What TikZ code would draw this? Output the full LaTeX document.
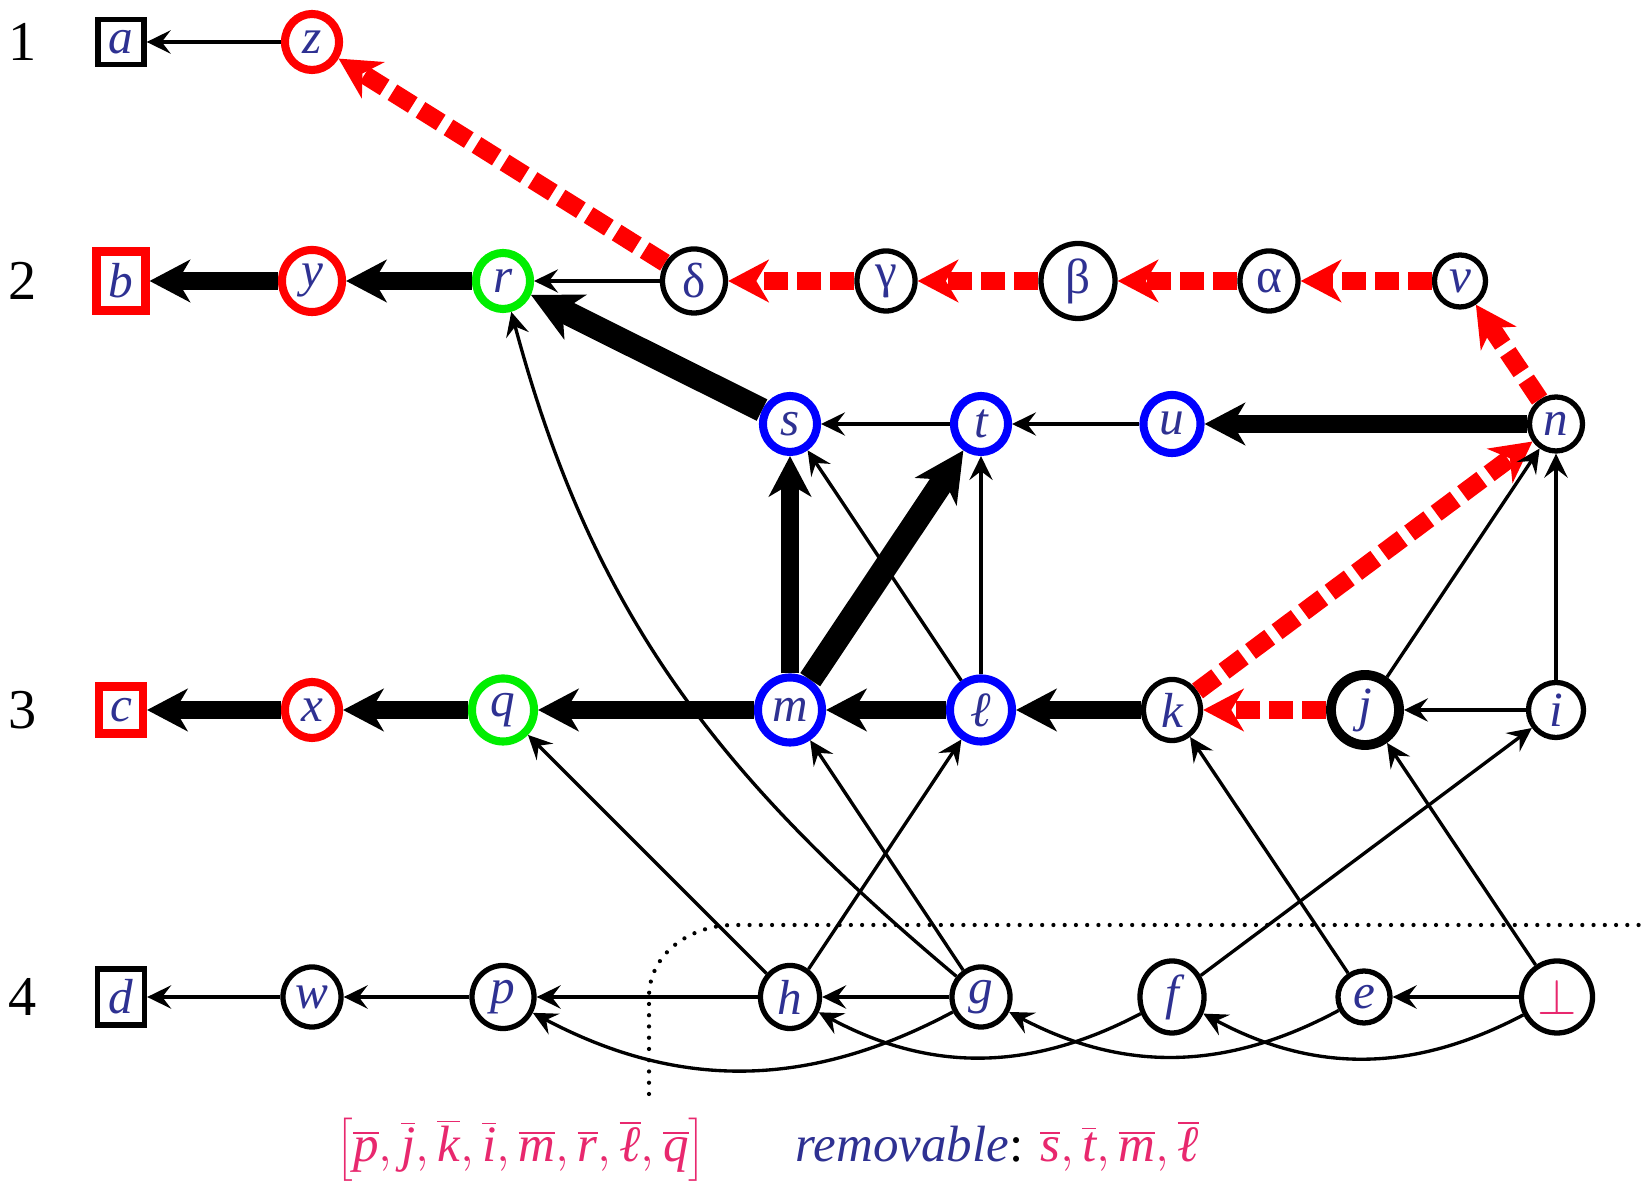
\documentclass[tikz,border=0pt]{standalone}
\usepackage{fontspec}
\setmainfont{Liberation Serif}
\definecolor{LblBlue}{HTML}{2E3192}
\definecolor{LblPink}{HTML}{E8286E}
\definecolor{MkRed}{HTML}{FF0000}
\definecolor{MkGreen}{HTML}{00EE00}
\definecolor{MkBlue}{HTML}{0000FF}
\usetikzlibrary{positioning,shapes.geometric,arrows.meta}

\tikzset{
  vtx/.style={draw, ellipse, line width=1.5pt, fill=white, inner sep=0pt,
    minimum width=0.58cm, minimum height=0.6cm, text=LblBlue,
    font=\fontsize{14}{16}\selectfont\itshape},
  sqr/.style={vtx, rectangle},
  redv/.style={vtx, draw=MkRed, line width=2.3pt, minimum width=0.54cm, minimum height=0.56cm},
  grnv/.style={vtx, draw=MkGreen, line width=2.3pt, minimum width=0.54cm, minimum height=0.56cm},
  bluv/.style={vtx, draw=MkBlue, line width=2.3pt, minimum width=0.54cm, minimum height=0.56cm},
  rowlbl/.style={font=\fontsize{16}{18}\selectfont},
  lnk/.style={-{Stealth[length=6.8pt,width=6.6pt,inset=2.5pt]}, line width=0.95pt},
  hvy/.style={-{Stealth[length=11.5pt,width=12pt,inset=3.5pt]}, line width=5.2pt},
  xhvy/.style={-{Stealth[length=14pt,width=14pt,inset=4pt]}, line width=6.8pt},
  rdash/.style={-{Stealth[length=11.5pt,width=12pt,inset=3.5pt]}, line width=5.2pt,
    MkRed, dash pattern=on 6.8pt off 2.6pt},
  dotline/.style={line width=1.2pt, line cap=round, dash pattern=on 0pt off 3.2pt}
}

\begin{document}
\begin{tikzpicture}[x=0.01cm, y=0.01cm]
  \useasboundingbox (0,0) rectangle (1648,1185);
  % row numbers
  \node[rowlbl] (lbl1) at (23,1143) {1};
  \node[rowlbl] (lbl2) at (23,904) {2};
  \node[rowlbl] (lbl3) at (23,475) {3};
  \node[rowlbl] (lbl4) at (23,188) {4};
  % row 1
  \node[sqr, minimum width=0.46cm, minimum height=0.45cm] (a) at (121,1143) {a};
  \node[redv] (z) at (312,1143) {z};
  % row 2
  \node[sqr, draw=MkRed, line width=2.3pt, minimum width=0.49cm, minimum height=0.59cm] (b) at (121,904) {b};
  \node[redv, minimum width=0.6cm, minimum height=0.62cm] (y) at (312,904) {y};
  \node[grnv] (r) at (503,904) {r};
  \node[vtx, minimum width=0.63cm, minimum height=0.64cm] (delta) at (694,904) {\upshape δ};
  \node[vtx] (gamma) at (886,904) {\upshape γ};
  \node[vtx, minimum width=0.74cm, minimum height=0.75cm] (beta) at (1078,904) {\upshape β};
  \node[vtx] (alpha) at (1269,904) {\upshape α};
  \node[vtx, minimum width=0.51cm, minimum height=0.52cm] (v) at (1460,904) {v};
  % between rows 2 and 3
  \node[bluv] (s) at (790,761) {s};
  \node[bluv] (t) at (981,761) {t};
  \node[bluv, minimum width=0.57cm, minimum height=0.58cm] (u) at (1172,761) {u};
  \node[vtx, minimum width=0.53cm, minimum height=0.54cm] (n) at (1556,761) {n};
  % row 3
  \node[sqr, draw=MkRed, line width=2.3pt, minimum width=0.44cm, minimum height=0.47cm] (c) at (121,475) {c};
  \node[redv] (x) at (312,475) {x};
  \node[grnv, minimum width=0.62cm, minimum height=0.63cm] (q) at (503,475) {q};
  \node[bluv, minimum width=0.64cm, minimum height=0.65cm] (m) at (790,475) {m};
  \node[bluv, minimum width=0.62cm, minimum height=0.63cm] (l) at (981,475) {ℓ};
  \node[vtx, minimum width=0.57cm, minimum height=0.61cm] (k) at (1172,475) {k};
  \node[vtx, line width=2.8pt, minimum width=0.68cm, minimum height=0.7cm] (j) at (1365,475) {j};
  \node[vtx, minimum width=0.55cm, minimum height=0.55cm] (i) at (1556,475) {i};
  % row 4
  \node[sqr, minimum width=0.47cm, minimum height=0.56cm] (d) at (121,188) {d};
  \node[vtx] (w) at (312,188) {w};
  \node[vtx, minimum width=0.62cm, minimum height=0.63cm] (p) at (503,188) {p};
  \node[vtx, minimum width=0.59cm, minimum height=0.63cm] (h) at (790,188) {h};
  \node[vtx] (g) at (981,188) {g};
  \node[vtx, minimum width=0.64cm, minimum height=0.72cm] (f) at (1172,188) {f};
  \node[vtx, minimum width=0.52cm, minimum height=0.52cm] (e) at (1364,188) {e};
  \node[vtx, minimum width=0.71cm, minimum height=0.72cm] (bot) at (1557,188) {\color{LblPink}$\perp$};

  % straight edges
  \draw[lnk] (z) -- (a);
  \draw[rdash] (delta) -- (z);
  \draw[hvy] (y) -- (b);
  \draw[hvy] (r) -- (y);
  \draw[lnk] (delta) -- (r);
  \draw[rdash] (gamma) -- (delta);
  \draw[rdash] (beta) -- (gamma);
  \draw[rdash] (alpha) -- (beta);
  \draw[rdash] (v) -- (alpha);
  \draw[rdash] (n) -- (v);
  \draw[xhvy] (s) -- (r);
  \draw[lnk] (t) -- (s);
  \draw[lnk] (u) -- (t);
  \draw[hvy] (n) -- (u);
  \draw[hvy] (m) -- (s);
  \draw[xhvy] (m) -- (t);
  \draw[lnk] (l) -- (s);
  \draw[lnk] (l) -- (t);
  \draw[rdash] (k) -- (n);
  \draw[lnk] (j) -- (n);
  \draw[lnk] (i) -- (n);
  \draw[hvy] (x) -- (c);
  \draw[hvy] (q) -- (x);
  \draw[hvy] (m) -- (q);
  \draw[hvy] (l) -- (m);
  \draw[hvy] (k) -- (l);
  \draw[rdash] (j) -- (k);
  \draw[lnk] (i) -- (j);
  \draw[lnk] (h) -- (q);
  \draw[lnk] (g) -- (m);
  \draw[lnk] (h) -- (l);
  \draw[lnk] (f) -- (i);
  \draw[lnk] (e) -- (k);
  \draw[lnk] (bot) -- (j);
  \draw[lnk] (w) -- (d);
  \draw[lnk] (p) -- (w);
  \draw[lnk] (h) -- (p);
  \draw[lnk] (g) -- (h);
  \draw[lnk] (bot) -- (e);
  % curved edges
  \draw[lnk] (g) to[out=140, in=-75] (r);
  \draw[lnk] (g) to[bend left=28] (p);
  \draw[lnk] (f) to[bend left=28] (h);
  \draw[lnk] (e) to[bend left=28] (g);
  \draw[lnk] (bot) to[bend left=28] (f);

  % cut line
  \draw[dotline] (649,91) -- (649,188) to[out=90, in=180] (734,260) -- (1648,260);

  % bottom texts
  \node[anchor=base west, inner sep=0pt, text=LblPink, font=\fontsize{14.5}{17}\selectfont\itshape] (lst) at (336,23)
    {$\left[\overline{\textit{p}},\overline{\textit{j}},\overline{\textit{k}},\overline{\textit{i}},\overline{\textit{m}},\overline{\textit{r}},\overline{\textit{ℓ}},\overline{\textit{q}}\right]$};
  \node[anchor=base west, inner sep=0pt, font=\fontsize{14.5}{17}\selectfont\itshape] (rmv) at (795,23)
    {\textcolor{LblBlue}{removable}\upshape:
     \color{LblPink}$\overline{\textit{s}},\overline{\textit{t}},\overline{\textit{m}},\overline{\textit{ℓ}}$};
\end{tikzpicture}
\end{document}
